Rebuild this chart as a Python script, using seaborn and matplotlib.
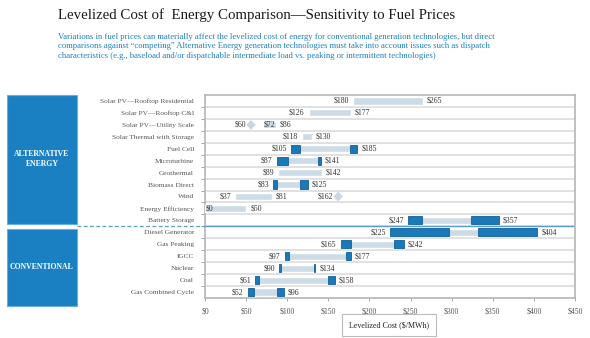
import matplotlib
matplotlib.use("Agg")
import matplotlib.pyplot as plt
import seaborn as sns
import numpy as np
import pandas as pd
from matplotlib.patches import Rectangle
from matplotlib.lines import Line2D

# ---------------- data ----------------
techs = ["Solar PV\u2014Rooftop Residential", "Solar PV\u2014Rooftop C&I", "Solar PV\u2014Utility Scale",
         "Solar Thermal with Storage", "Fuel Cell", "Microturbine", "Geothermal", "Biomass Direct",
         "Wind", "Energy Efficiency", "Battery Storage", "Diesel Generator", "Gas Peaking",
         "IGCC", "Nuclear", "Coal", "Gas Combined Cycle"]
low = [180, 126, 70, 118, 105, 87, 89, 83, 37, 0, 247, 225, 165, 97, 90, 61, 52]
high = [265, 177, 86, 130, 185, 141, 142, 125, 81, 50, 357, 404, 242, 177, 134, 158, 96]
# fuel-price sensitivity segments (dark): end of low segment, start of high segment
fuel_low_end = [None, None, None, None, 115, 101, None, 87, None, None, 264, 297, 178, 102, 92, 66, 60]
fuel_high_start = [None, None, None, None, 176, 137, None, 116, None, None, 324, 332, 230, 171, 132, 150, 87]
low_labels = ["$180", "$126", "$72", "$118", "$105", "$87", "$89", "$83", "$37", "$0",
              "$247", "$225", "$165", "$97", "$90", "$61", "$52"]
high_labels = ["$265", "$177", "$86", "$130", "$185", "$141", "$142", "$125", "$81", "$50",
               "$357", "$404", "$242", "$177", "$134", "$158", "$96"]
low_label_inside = [False, False, True, False, False, False, False, False, False, True,
                    False, False, False, False, False, False, False]
diamond_rows = ["Solar PV\u2014Utility Scale", "Wind"]
diamond_vals = [56, 162]
diamond_labels = ["$60", "$162"]
groups = ["ALTERNATIVE\nENERGY", "CONVENTIONAL"]
group_sizes = [11, 6]
xticks = [0, 50, 100, 150, 200, 250, 300, 350, 400, 450]

# ---------------- style ----------------
sns.set_theme(style="white")
plt.rcParams['font.family'] = ['Liberation Serif', 'DejaVu Serif']

LIGHT = "#cddbe6"
DARK = "#1a7ab9"
DARK_EDGE = "#125f94"
BLUE = "#1b80c1"
TXT = "#333333"

fig = plt.figure(figsize=(5.9, 3.38), dpi=100)
ax = fig.add_axes([205/590, 1-298/338, 370/590, 203/338])

n = len(techs)
ypos = np.arange(n)
df = pd.DataFrame({"tech": techs, "low": low, "high": high})

# light range bars
ax.barh(ypos, df["high"] - df["low"], left=df["low"], height=0.6, color=LIGHT, zorder=3)

# dark fuel-sensitivity segments
for i in range(n):
    if fuel_low_end[i] is not None:
        ax.barh(i, fuel_low_end[i] - low[i], left=low[i], height=0.68, color=DARK,
                edgecolor=DARK_EDGE, linewidth=0.6, zorder=4)
        ax.barh(i, high[i] - fuel_high_start[i], left=fuel_high_start[i], height=0.68,
                color=DARK, edgecolor=DARK_EDGE, linewidth=0.6, zorder=4)

# diamonds
dd = pd.DataFrame({"x": diamond_vals, "y": [techs.index(t) for t in diamond_rows]})
sns.scatterplot(data=dd, x="x", y="y", marker="D", s=24, color="#c8d7e3", edgecolor="none",
                ax=ax, zorder=5, legend=False)

# value labels
fs = 5.6
for i in range(n):
    if low_label_inside[i]:
        ax.text(low[i] + 1, i, low_labels[i], ha="left", va="center", fontsize=fs, color=TXT, zorder=6)
    else:
        ax.text(low[i] - 5, i, low_labels[i], ha="right", va="center", fontsize=fs, color=TXT, zorder=6)
    ax.text(high[i] + 5, i, high_labels[i], ha="left", va="center", fontsize=fs, color=TXT, zorder=6)
for x, r, lab in zip(diamond_vals, diamond_rows, diamond_labels):
    ax.text(x - 6, techs.index(r), lab, ha="right", va="center", fontsize=fs, color=TXT, zorder=6)

# row separators
for b in np.arange(0.5, n - 1, 1.0):
    ax.axhline(b, color="#dedede", lw=1.3, zorder=1)
sep = group_sizes[0] - 0.5
ax.axhline(sep, color="#5b9bd5", lw=1.0, zorder=2)

ax.set_xlim(0, 450)
ax.set_ylim(n - 0.5, -0.5)
ax.set_yticks(ypos)
ax.set_yticklabels(techs, fontsize=5.3, color="#555555")
ax.set_yticks(np.arange(0.5, n - 1, 1.0), minor=True)
ax.tick_params(axis="y", which="major", length=0, pad=8)
ax.tick_params(axis="y", which="minor", length=3, color="#999999", width=0.6, left=True)
ax.set_xticks(xticks)
ax.set_xticklabels([f"${v}" for v in xticks], fontsize=5.6, color="#555555")
ax.tick_params(axis="x", length=2, color="#999999", width=0.6, pad=5, bottom=True)
ax.set_xlabel("")
ax.set_ylabel("")
for s in ax.spines.values():
    s.set_visible(True)
    s.set_color("#b5b5b5")
    s.set_linewidth(1.2)

# dashed extension of the separator to the left
ysep_fig = 1 - (95 + (sep + 0.5) * 203 / n) / 338
fig.add_artist(Line2D([77/590, 205/590], [ysep_fig, ysep_fig], transform=fig.transFigure,
                      color="#5b9bd5", lw=0.9, ls=(0, (3, 2))))

# group boxes
boxes = [(94.5, 224.0), (229.0, 305.5)]
for (top, bot), g in zip(boxes, groups):
    fig.add_artist(Rectangle((7/590, 1-bot/338), 70/590, (bot-top)/338, transform=fig.transFigure,
                             facecolor=BLUE, edgecolor="#6aaee0", lw=0.8))
    fig.text(42/590, 1-(top+bot)/2/338, g, ha="center", va="center", fontsize=5.6, color="white",
             fontweight="bold", linespacing=1.3)

# title & subtitle
fig.text(58/590, 1-15/338, "Levelized Cost of  Energy Comparison\u2014Sensitivity to Fuel Prices",
         fontsize=10.7, color="#1a1a1a", ha="left", va="center")
sub = ("Variations in fuel prices can materially affect the levelized cost of energy for conventional generation technologies, but direct\n"
       "comparisons against \u201ccompeting\u201d Alternative Energy generation technologies must take into account issues such as dispatch\n"
       "characteristics (e.g., baseload and/or dispatchable intermediate load vs. peaking or intermittent technologies)")
fig.text(58/590, 1-46.5/338, sub, fontsize=6.25, color="#1f7fc0", ha="left", va="center", linespacing=1.3)

# x-axis label in box
fig.text(389/590, 1-325/338, "Levelized Cost ($/MWh)", fontsize=5.8, color="#222222", ha="center", va="center",
         bbox=dict(boxstyle="square,pad=0.9", facecolor="white", edgecolor="#bbbbbb", lw=0.8))

fig.savefig("out.png", dpi=100)
